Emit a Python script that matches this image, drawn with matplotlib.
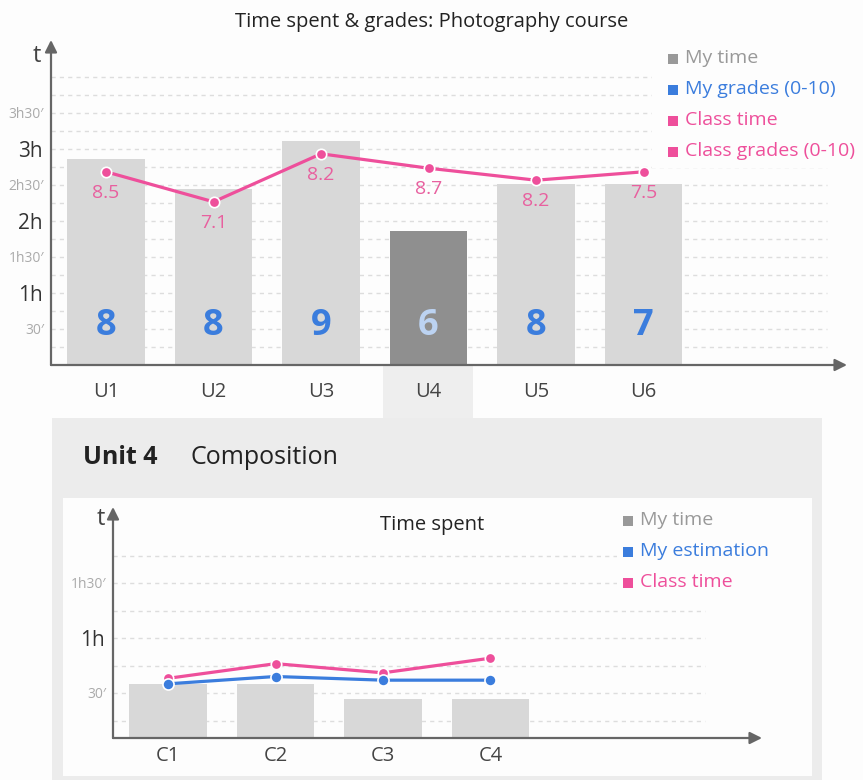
import matplotlib
matplotlib.use("Agg")
import matplotlib.pyplot as plt
from matplotlib.patches import Rectangle
import numpy as np

plt.rcParams['font.family'] = ['Open Sans', 'DejaVu Sans']

# course overview, times in minutes
units = ['U1', 'U2', 'U3', 'U4', 'U5', 'U6']
my_time = [172, 147, 187, 112, 151, 151]
class_time = [161, 136, 176, 164, 154, 161]
my_grades = [8, 8, 9, 6, 8, 7]
class_grades = [8.5, 7.1, 8.2, 8.7, 8.2, 7.5]
selected = 3

# unit 4 detail, times in minutes
chapters = ['C1', 'C2', 'C3', 'C4']
ch_my_time = [35, 35, 27, 27]
ch_estimation = [35, 39, 37, 37]
ch_class_time = [38, 46, 41, 49]

W, H = 863, 780
GRAY = '#d8d8d8'
DARK = '#8f8f8f'
BLUE = '#3b7ddd'
PINK = '#ee4f9b'
AXC = '#666666'
PAPER = '#fdfdfd'


def fx(px):
    return px / W


def fy(py):
    return 1 - py / H


def pixel_axes(z):
    a = fig.add_axes([0, 0, 1, 1], zorder=z)
    a.set_xlim(0, W)
    a.set_ylim(H, 0)
    a.axis('off')
    a.set_facecolor('none')
    return a


fig = plt.figure(figsize=(W / 100, H / 100), dpi=100)
fig.patch.set_facecolor(PAPER)

# background layer: panels and titles
bg = pixel_axes(-5)
bg.add_patch(Rectangle((383, 366), 90, 53, color='#eeeeee', lw=0))
bg.add_patch(Rectangle((52, 418), 770, 362, color='#ececec', lw=0))
bg.add_patch(Rectangle((63, 498), 749, 278, color=PAPER, lw=0))

bg.text(432, 22, 'Time spent & grades: Photography course', ha='center',
        va='center', fontsize=14.5, color='#222222')
bg.text(83, 458, 'Unit 4', ha='left', va='center', fontsize=18,
        fontweight='bold', color='#222222')
bg.text(190, 458, 'Composition', ha='left', va='center', fontsize=18,
        color='#222222')
bg.text(432, 525, 'Time spent', ha='center', va='center', fontsize=14.5,
        color='#222222')

# foreground layer: legends sit on an opaque box over the grid
fg = pixel_axes(5)


def legend(x, y0, step, box, entries):
    fg.add_patch(Rectangle(box[:2], box[2], box[3], color=PAPER, lw=0))
    for k, (name, col) in enumerate(entries):
        yy = y0 + k * step
        fg.plot([x], [yy + 1], marker='s', ms=6.5, mew=0, color=col,
                ls='none')
        fg.text(x + 12, yy, name, ha='left', va='center', fontsize=14,
                color=col)


legend(673, 58, 31, (652, 38, 211, 130),
       [('My time', '#999999'), ('My grades (0-10)', BLUE),
        ('Class time', PINK), ('Class grades (0-10)', PINK)])
legend(628, 520, 31, (617, 505, 195, 92),
       [('My time', '#999999'), ('My estimation', BLUE),
        ('Class time', PINK)])


def time_axes(rect, ylim, xlim, grid_top, grid_right, majors, minors,
              major_lbl, minor_lbl):
    ax = fig.add_axes(rect)
    ax.set_facecolor('none')
    ax.set_xlim(*xlim)
    ax.set_ylim(*ylim)
    for s in ax.spines.values():
        s.set_visible(False)
    gy = np.arange(0.25, grid_top + 0.01, 0.25)
    ax.hlines(gy, xlim[0], grid_right, colors='#dddddd', lw=1,
              linestyles=(0, (3, 3)), zorder=0)
    ax.set_yticks(majors, major_lbl)
    ax.set_yticks(minors, minor_lbl, minor=True)
    ax.tick_params(axis='y', which='major', length=0, labelsize=15,
                   labelcolor='#333333', pad=6)
    ax.tick_params(axis='y', which='minor', length=0, labelsize=10,
                   labelcolor='#aaaaaa', pad=5)
    ax.annotate('', xy=(0, 1), xytext=(0, 0), xycoords='axes fraction',
                arrowprops=dict(arrowstyle='-|>', color=AXC, lw=1.6,
                                mutation_scale=18, shrinkA=0, shrinkB=0))
    ax.annotate('', xy=(1, 0), xytext=(0, 0), xycoords='axes fraction',
                arrowprops=dict(arrowstyle='-|>', color=AXC, lw=1.6,
                                mutation_scale=18, shrinkA=0, shrinkB=0))
    ax.text(-0.012, 0.95, 't', transform=ax.transAxes, ha='right',
            va='center', fontsize=17, color='#444444')
    return ax


# top chart: whole course
ax1 = time_axes([fx(51), fy(365), fx(847) - fx(51), fy(40) - fy(365)],
                (0, 325 / 72), (-0.512, 6.893), 4.0, 6.707,
                [1, 2, 3], [0.5, 1.5, 2.5, 3.5],
                ['1h', '2h', '3h'], ['30\u2032', '1h30\u2032', '2h30\u2032', '3h30\u2032'])
x1 = np.arange(len(units))
bar_cols = [DARK if i == selected else GRAY for i in x1]
ax1.bar(x1, np.array(my_time) / 60, width=0.72, color=bar_cols, zorder=1)
ch = np.array(class_time) / 60
ax1.plot(x1, ch, color=PINK, lw=2.3, marker='o', ms=7.5, mec='white',
         mew=1.2, zorder=3)
for i, g in enumerate(class_grades):
    ax1.text(i, ch[i] - 0.29, f'{g}', ha='center', va='center',
             fontsize=14, color='#e8609f', zorder=4)
for i, g in enumerate(my_grades):
    ax1.text(i, 0.54, str(g), ha='center', va='center', fontsize=26,
             fontweight='bold', color='#bcd3f2' if i == selected else BLUE,
             zorder=4)
ax1.set_xticks(x1, units)
ax1.tick_params(axis='x', length=0, labelsize=14.5, labelcolor='#444444',
                pad=12)

# bottom chart: unit detail
b0 = 10 / 110
ax2 = time_axes([fx(113), fy(738), fx(762) - fx(113), fy(507) - fy(738)],
                (b0, b0 + 231 / 110), (-0.512, 5.526), 1.75, 5.0,
                [1], [0.5, 1.5], ['1h'], ['30\u2032', '1h30\u2032'])
x2 = np.arange(len(chapters))
ax2.bar(x2, np.array(ch_my_time) / 60, width=0.72, color=GRAY, zorder=1)
ax2.plot(x2, np.array(ch_class_time) / 60, color=PINK, lw=2.3, marker='o',
         ms=7.5, mec='white', mew=1.2, zorder=3)
ax2.plot(x2, np.array(ch_estimation) / 60, color=BLUE, lw=2.3, marker='o',
         ms=8, mec='white', mew=1.2, zorder=3)
ax2.set_xticks(x2, chapters)
ax2.tick_params(axis='x', length=0, labelsize=14.5, labelcolor='#444444',
                pad=6)

fig.savefig('out.png', dpi=100, facecolor=fig.get_facecolor())
